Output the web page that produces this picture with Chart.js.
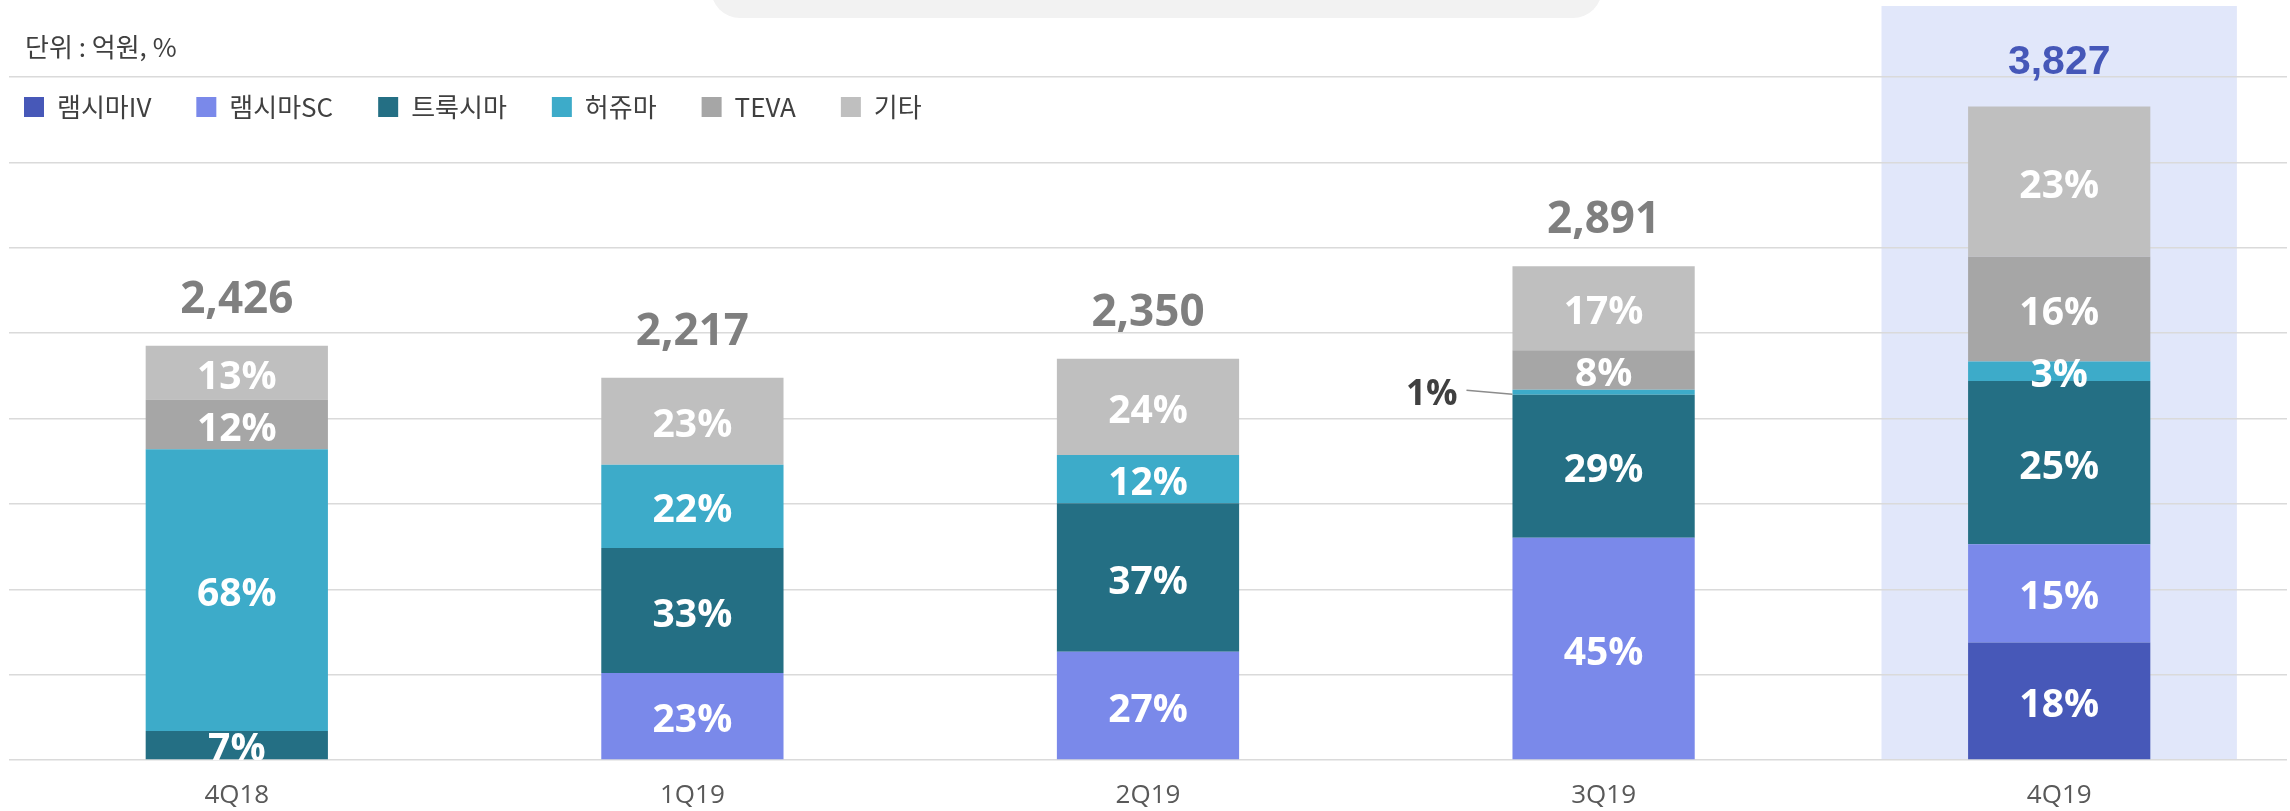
<!DOCTYPE html>
<html lang="ko">
<head>
<meta charset="UTF-8">
<title>제품별 매출 비중</title>
<script src="https://cdn.jsdelivr.net/npm/chart.js@4"></script>
<style>
  html, body { margin: 0; padding: 0; background: #fff; }
  #wrap { position: relative; width: 2290px; height: 811px; }
</style>
</head>
<body>
<div id="wrap"><canvas id="salesChart"></canvas></div>
<script>
// 분기별 매출 (억원) 과 제품별 비중 (%)
const quarters = ['4Q18', '1Q19', '2Q19', '3Q19', '4Q19'];
const totals = [2426, 2217, 2350, 2891, 3827];
const products = ['램시마IV', '램시마SC', '트룩시마', '허쥬마', 'TEVA', '기타'];
const shareIV = [null, null, null, null, 18];
const shareSC = [null, 23, 27, 45, 15];
const shareTruxima = [7, 33, 37, 29, 25];
const shareHerzuma = [68, 22, 12, 1, 3];
const shareTeva = [12, null, null, 8, 16];
const shareEtc = [13, 23, 24, 17, 23];
const yMax = 4000;
const yStep = 500;
const highlightQuarter = '4Q19';

const shares = [shareIV, shareSC, shareTruxima, shareHerzuma, shareTeva, shareEtc];
const colors = ['#4758b8', '#7a89ea', '#246f84', '#3dabc9', '#a6a6a6', '#bfbfbf'];

const datasets = products.map((name, d) => ({
  label: name,
  data: shares[d].map((s, i) => s == null ? null : totals[i] * s / 100),
  backgroundColor: colors[d],
  borderWidth: 0,
  barPercentage: 0.4,
  categoryPercentage: 1
}));

const decorations = {
  id: 'decorations',
  beforeDraw(chart) {
    const { ctx, chartArea, scales: { x } } = chart;
    ctx.save();
    // 상단 제목 박스 (잘린 부분)
    ctx.fillStyle = '#f2f2f2';
    ctx.beginPath();
    ctx.roundRect(711, -40, 891, 58, 34);
    ctx.fill();
    // 강조 분기 배경
    const hi = quarters.indexOf(highlightQuarter);
    const cx = x.getPixelForValue(hi);
    const w = (x.getPixelForValue(1) - x.getPixelForValue(0)) * 0.78;
    ctx.fillStyle = '#e1e7fa';
    ctx.fillRect(cx - w / 2, 6, w, chartArea.bottom - 6);
    // 단위
    ctx.fillStyle = '#404040';
    ctx.font = '26px "Noto Sans CJK KR"';
    ctx.textBaseline = 'middle';
    ctx.textAlign = 'left';
    ctx.fillText('단위 : 억원, %', 25, 47);
    ctx.restore();
  },
  afterDatasetsDraw(chart) {
    const { ctx, chartArea } = chart;
    ctx.save();
    ctx.beginPath();
    ctx.rect(0, 0, chart.width, chartArea.bottom);
    ctx.clip();
    ctx.textAlign = 'center';
    ctx.textBaseline = 'middle';
    const tops = quarters.map(() => Infinity);
    chart.data.datasets.forEach((ds, d) => {
      chart.getDatasetMeta(d).data.forEach((el, i) => {
        const s = shares[d][i];
        if (s == null) return;
        tops[i] = Math.min(tops[i], el.y);
        const h = el.base - el.y;
        const cy = (el.y + el.base) / 2;
        if (h < 12) {
          // 작은 구간: 왼쪽에 지시선과 함께 표시
          const left = el.x - el.width / 2;
          ctx.strokeStyle = '#8c8c8c';
          ctx.lineWidth = 1.5;
          ctx.beginPath();
          ctx.moveTo(left, cy + 2);
          ctx.lineTo(left - 46, cy - 2);
          ctx.stroke();
          ctx.fillStyle = '#404040';
          ctx.font = 'bold 35px "Open Sans"';
          ctx.textAlign = 'right';
          ctx.fillText(s + '%', left - 55, cy + 3);
          ctx.textAlign = 'center';
        } else {
          ctx.fillStyle = '#ffffff';
          ctx.font = 'bold 39px "Open Sans"';
          ctx.fillText(s + '%', el.x, cy + 5);
        }
      });
    });
    ctx.restore();
    // 합계
    ctx.save();
    ctx.textAlign = 'center';
    ctx.textBaseline = 'alphabetic';
    const x = chart.scales.x;
    totals.forEach((t, i) => {
      if (quarters[i] === highlightQuarter) {
        ctx.fillStyle = '#4557b8';
        ctx.font = 'bold 41px "Liberation Sans"';
      } else {
        ctx.fillStyle = '#7f7f7f';
        ctx.font = 'bold 44px "Open Sans"';
      }
      ctx.fillText(t.toLocaleString('en-US'), x.getPixelForValue(i), tops[i] - 33);
    });
    ctx.restore();
  },
  afterDraw(chart) {
    const { ctx } = chart;
    ctx.save();
    ctx.font = '26px "Noto Sans CJK KR"';
    ctx.textBaseline = 'middle';
    ctx.textAlign = 'left';
    let lx = 24;
    chart.data.datasets.forEach(ds => {
      ctx.fillStyle = ds.backgroundColor;
      ctx.fillRect(lx, 97, 20, 20);
      ctx.fillStyle = '#404040';
      ctx.fillText(ds.label, lx + 33, 107);
      lx += 33 + ctx.measureText(ds.label).width + 45;
    });
    ctx.restore();
  }
};

new Chart(document.getElementById('salesChart'), {
  type: 'bar',
  data: { labels: quarters, datasets: datasets },
  options: {
    responsive: true,
    maintainAspectRatio: false,
    animation: false,
    layout: { padding: { top: 77, left: 9, right: 3, bottom: 0 } },
    plugins: {
      legend: { display: false },
      tooltip: { enabled: false }
    },
    scales: {
      x: {
        stacked: true,
        grid: { display: false, drawTicks: false },
        border: { display: false },
        ticks: { color: '#595959', font: { family: 'Open Sans', size: 26 }, padding: 20 },
        afterFit(scale) { scale.height = 51; }
      },
      y: {
        stacked: true,
        min: 0,
        max: yMax,
        ticks: { display: false, stepSize: yStep },
        grid: { color: '#dadada', lineWidth: 1.5, drawTicks: false },
        border: { display: false }
      }
    }
  },
  plugins: [decorations]
});
</script>
</body>
</html>
